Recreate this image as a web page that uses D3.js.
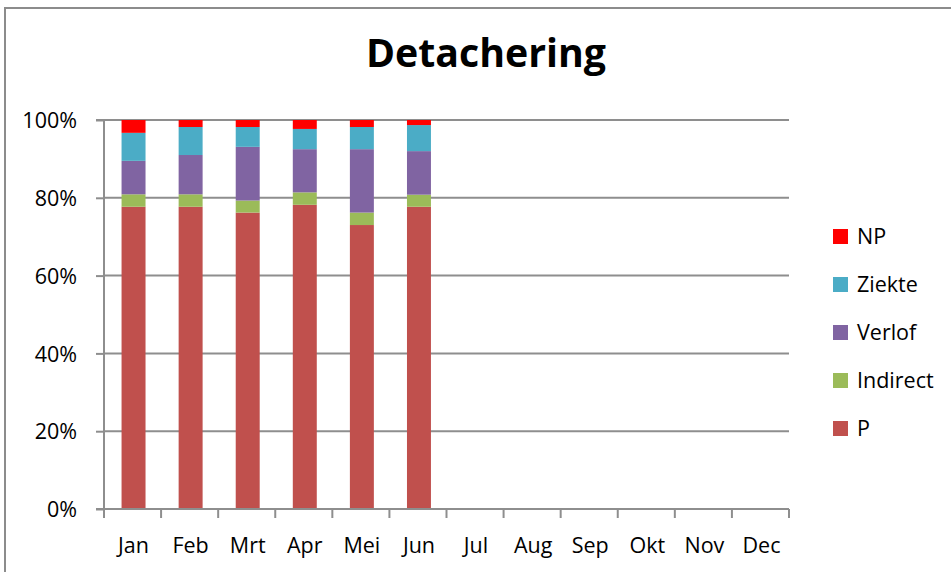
<!DOCTYPE html>
<html>
<head>
<meta charset="utf-8">
<script src="https://cdn.jsdelivr.net/npm/d3@7/dist/d3.min.js"></script>
<style>
  html, body { margin: 0; padding: 0; background: #fff; }
  svg { display: block; }
  text { font-family: "Open Sans", "Liberation Sans", sans-serif; fill: #000; }
</style>
</head>
<body>
<svg id="chart" width="951" height="572"></svg>
<script>
const months = ["Jan","Feb","Mrt","Apr","Mei","Jun","Jul","Aug","Sep","Okt","Nov","Dec"];
const dataMonths = ["Jan","Feb","Mrt","Apr","Mei","Jun"];
const P        = [77.7, 77.7, 76.2, 78.2, 73.0, 77.7];
const Indirect = [3.2, 3.2, 3.1, 3.2, 3.2, 3.1];
const Verlof   = [8.6, 10.1, 13.8, 11.1, 16.3, 11.2];
const Ziekte   = [7.2, 7.2, 5.1, 5.2, 5.7, 6.7];
const NP       = [3.3, 1.8, 1.8, 2.3, 1.8, 1.3];
const yTicks = [0, 20, 40, 60, 80, 100];
const seriesKeys = ["P","Indirect","Verlof","Ziekte","NP"];
const legendOrder = ["NP","Ziekte","Verlof","Indirect","P"];
const colors = { P: "#C0504D", Indirect: "#9BBB59", Verlof: "#8064A2", Ziekte: "#4BACC6", NP: "#FF0000" };

const seriesValues = { P, Indirect, Verlof, Ziekte, NP };
const rows = dataMonths.map((m, i) => {
  const r = { month: m };
  seriesKeys.forEach(k => r[k] = seriesValues[k][i]);
  return r;
});

const svg = d3.select("#chart");
const FS = 21.5;

// outer chart border
svg.append("rect")
  .attr("x", 5).attr("y", 8).attr("width", 1000).attr("height", 700)
  .attr("fill", "#fff").attr("stroke", "#8c8c8c").attr("stroke-width", 2);

const x = d3.scaleBand().domain(months).range([104, 789]).paddingInner(0.58).paddingOuter(0.29);
const y = d3.scaleLinear().domain([0, 100]).range([509, 120]);

// gridlines
svg.append("g").selectAll("line").data(yTicks.filter(t => t > 0)).join("line")
  .attr("x1", 104).attr("x2", 789)
  .attr("y1", d => y(d)).attr("y2", d => y(d))
  .attr("stroke", "#8e8e8e").attr("stroke-width", 2);

// bars
const stack = d3.stack().keys(seriesKeys);
const stacked = stack(rows);
svg.append("g").selectAll("g").data(stacked).join("g")
  .attr("fill", d => colors[d.key])
  .selectAll("rect").data(d => d).join("rect")
  .attr("x", d => x(d.data.month) + 1)
  .attr("width", x.bandwidth())
  .attr("y", d => y(d[1]))
  .attr("height", d => y(d[0]) - y(d[1]));

// y axis
const yAxis = d3.axisLeft(y).tickValues(yTicks).tickFormat(d => d + "%").tickSize(8).tickPadding(19);
const yg = svg.append("g").attr("transform", "translate(104,0)").call(yAxis);
yg.select(".domain").attr("stroke", "#8e8e8e").attr("stroke-width", 2).attr("d", "M-8,120H0V509H-8");
yg.selectAll(".tick line").attr("stroke", "#8e8e8e").attr("stroke-width", 2);
yg.selectAll(".tick text").attr("font-size", FS).attr("font-family", "Open Sans, sans-serif").attr("fill", "#000").attr("dy", "0.36em");

// x axis
const xg = svg.append("g").attr("transform", "translate(0,509)");
xg.append("line").attr("x1", 104).attr("x2", 789).attr("y1", 0).attr("y2", 0)
  .attr("stroke", "#8e8e8e").attr("stroke-width", 2);
const bounds = months.map(m => x(m) - x.step() * x.paddingOuter());
bounds.push(789);
xg.selectAll("line.tk").data(bounds).join("line").attr("class", "tk")
  .attr("x1", d => d).attr("x2", d => d).attr("y1", 0).attr("y2", 9)
  .attr("stroke", "#8e8e8e").attr("stroke-width", 2);
xg.selectAll("text").data(months).join("text")
  .attr("x", d => x(d) + x.bandwidth() / 2 + 1)
  .attr("y", 44)
  .attr("text-anchor", "middle")
  .attr("font-size", FS)
  .text(d => d);

// title
svg.append("text")
  .attr("x", 486).attr("y", 67)
  .attr("text-anchor", "middle")
  .attr("font-size", 39).attr("font-weight", "bold")
  .attr("textLength", 240).attr("lengthAdjust", "spacingAndGlyphs")
  .text("Detachering");

// legend
const lg = svg.append("g").selectAll("g").data(legendOrder).join("g")
  .attr("transform", (d, i) => `translate(833, ${236.5 + i * 48})`);
lg.append("rect").attr("x", 0).attr("y", -7.5).attr("width", 15).attr("height", 15)
  .attr("fill", d => colors[d]);
lg.append("text").attr("x", 24).attr("y", 0).attr("dy", "0.36em").attr("font-size", FS).text(d => d);
</script>
</body>
</html>
